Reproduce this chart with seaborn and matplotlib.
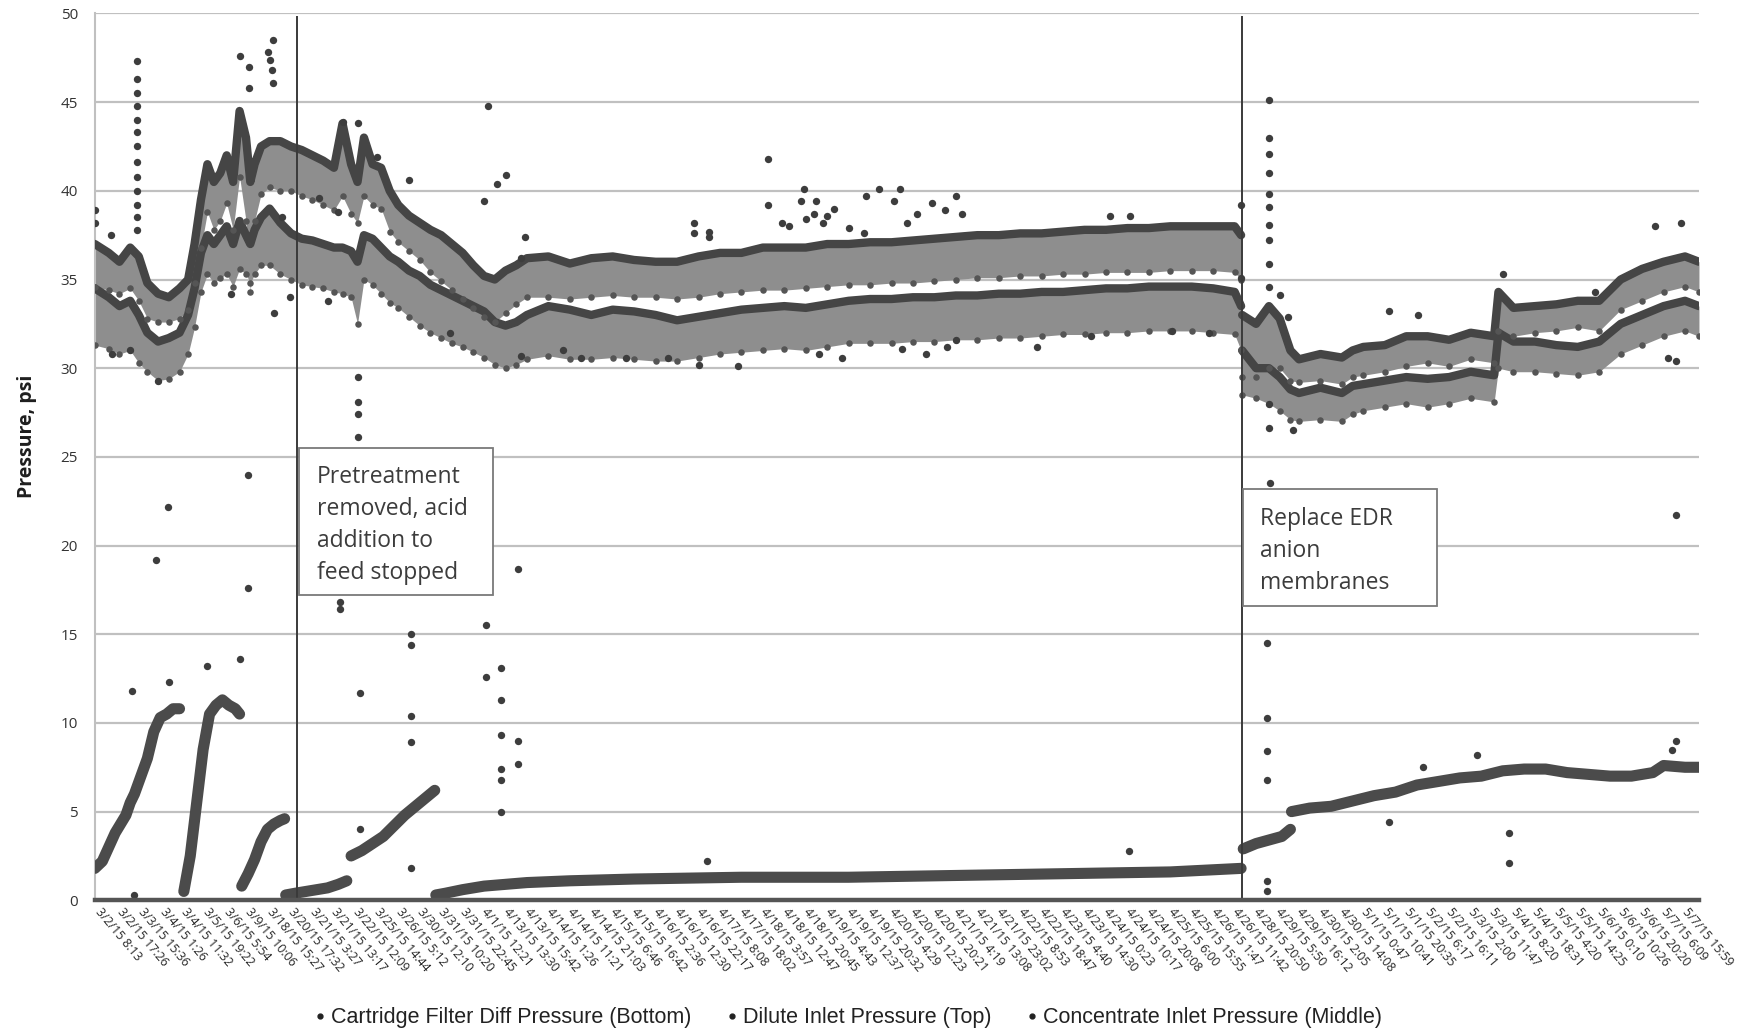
import numpy as np
import pandas as pd
import matplotlib
matplotlib.use("Agg")
import matplotlib.pyplot as plt
import seaborn as sns
from matplotlib.patches import Rectangle
from matplotlib.lines import Line2D

# ---------------- data ----------------
tick_labels = [
    "3/2/15 8:13", "3/2/15 17:26", "3/3/15 15:36", "3/4/15 1:26", "3/4/15 11:32",
    "3/5/15 19:22", "3/6/15 5:54", "3/9/15 10:06", "3/18/15 15:27", "3/20/15 17:32",
    "3/21/15 3:27", "3/21/15 13:17", "3/22/15 12:09", "3/25/15 14:44", "3/26/15 5:12",
    "3/30/15 12:10", "3/31/15 10:20", "3/31/15 22:45", "4/1/15 12:21", "4/13/15 13:30",
    "4/13/15 15:42", "4/14/15 1:26", "4/14/15 11:21", "4/14/15 21:03", "4/15/15 6:46",
    "4/15/15 16:42", "4/16/15 2:36", "4/16/15 12:30", "4/16/15 22:17", "4/17/15 8:08",
    "4/17/15 18:02", "4/18/15 3:57", "4/18/15 12:47", "4/18/15 20:45", "4/19/15 4:43",
    "4/19/15 12:37", "4/19/15 20:32", "4/20/15 4:29", "4/20/15 12:23", "4/20/15 20:21",
    "4/21/15 4:19", "4/21/15 13:08", "4/21/15 23:02", "4/22/15 8:53", "4/22/15 18:47",
    "4/23/15 4:40", "4/23/15 14:30", "4/24/15 0:23", "4/24/15 10:17", "4/24/15 20:08",
    "4/25/15 6:00", "4/25/15 15:55", "4/26/15 1:47", "4/26/15 11:42", "4/28/15 20:50",
    "4/29/15 5:50", "4/29/15 16:12", "4/30/15 2:05", "4/30/15 14:08", "5/1/15 0:47",
    "5/1/15 10:41", "5/1/15 20:35", "5/2/15 6:17", "5/2/15 16:11", "5/3/15 2:00",
    "5/3/15 11:47", "5/4/15 8:20", "5/4/15 18:31", "5/5/15 4:20", "5/5/15 14:25",
    "5/6/15 0:10", "5/6/15 10:26", "5/6/15 20:20", "5/7/15 6:09", "5/7/15 15:59",
]

# Dilute Inlet Pressure (Top) band, x in tick-index units
dil_x = [-0.15, 0.5, 1.0, 1.5, 1.9, 2.3, 2.8, 3.3, 3.8, 4.2, 4.5, 4.8, 5.1, 5.4, 5.7, 6.0,
         6.3, 6.6, 6.9, 7.1, 7.3, 7.6, 8.0, 8.5, 9.0, 9.5, 10.0, 10.5, 11.0, 11.4, 11.8,
         12.1, 12.4, 12.8, 13.2, 13.6, 14.0, 14.5, 15.0, 15.5, 16.0, 16.5, 17.0, 17.5,
         18.0, 18.5, 19.0, 19.5, 20, 21, 22, 23, 24, 25, 26, 27, 28, 29, 30, 31, 32, 33,
         34, 35, 36, 37, 38, 39, 40, 41, 42, 43, 44, 45, 46, 47, 48, 49, 50, 51, 52, 53, 53.3,
         53.35, 54.0, 54.6, 55.1, 55.6, 56, 57, 58, 58.5, 59, 60, 61, 62, 63, 64, 65.1,
         65.3, 66, 67, 68, 69, 70, 71, 72, 73, 74, 74.65]
dil_hi = [37.0, 36.5, 36.0, 36.8, 36.3, 34.8, 34.2, 34.0, 34.5, 35.0, 37.0, 39.5, 41.5, 40.5,
          41.0, 42.0, 40.5, 44.5, 43.0, 40.5, 41.5, 42.5, 42.8, 42.8, 42.5, 42.3, 42.0, 41.7,
          41.3, 43.8, 41.5, 40.5, 43.0, 41.5, 41.3, 40.0, 39.2, 38.6, 38.2, 37.8, 37.5, 37.0,
          36.5, 35.8, 35.2, 35.0, 35.5, 35.8, 36.2, 36.3, 35.9, 36.2, 36.3, 36.1, 36.0, 36.0,
          36.3, 36.5, 36.5, 36.8, 36.8, 36.8, 37.0, 37.0, 37.1, 37.1, 37.2, 37.3, 37.4, 37.5,
          37.5, 37.6, 37.6, 37.7, 37.8, 37.8, 37.9, 37.9, 38.0, 38.0, 38.0, 38.0, 37.5,
          33.0, 32.5, 33.5, 32.8, 31.0, 30.5, 30.8, 30.6, 31.0, 31.2, 31.3, 31.8, 31.8, 31.6,
          32.0, 31.8, 34.3, 33.4, 33.5, 33.6, 33.8, 33.8, 35.0, 35.6, 36.0, 36.3, 36.0]
dil_lo = [34.6, 34.4, 34.2, 34.5, 33.8, 32.8, 32.6, 32.6, 32.8, 33.3, 34.8, 36.8, 38.8, 37.8,
          38.3, 39.3, 37.8, 40.8, 38.3, 34.3, 38.3, 39.8, 40.2, 40.0, 40.0, 39.7, 39.5, 39.2,
          38.9, 39.7, 38.7, 38.2, 39.7, 39.2, 39.0, 37.7, 37.1, 36.6, 36.1, 35.4, 34.9, 34.4,
          33.9, 33.4, 32.9, 32.6, 33.1, 33.6, 34.0, 34.0, 33.9, 34.0, 34.1, 34.0, 34.0, 33.9,
          34.0, 34.2, 34.3, 34.4, 34.4, 34.5, 34.6, 34.7, 34.7, 34.8, 34.8, 34.9, 35.0, 35.1,
          35.1, 35.2, 35.2, 35.3, 35.3, 35.4, 35.4, 35.4, 35.5, 35.5, 35.5, 35.4, 35.0,
          29.5, 29.5, 30.0, 30.0, 29.3, 29.2, 29.3, 29.1, 29.5, 29.6, 29.8, 30.1, 30.3, 30.1,
          30.5, 30.3, 32.1, 31.8, 32.0, 32.1, 32.3, 32.1, 33.3, 33.8, 34.3, 34.6, 34.3]

# Concentrate Inlet Pressure (Middle) band (same x positions)
con_hi = [34.5, 34.0, 33.5, 33.8, 33.0, 32.0, 31.5, 31.7, 32.0, 33.0, 34.5, 36.5, 37.5, 37.0,
          37.5, 38.0, 37.0, 38.3, 37.5, 37.0, 37.8, 38.5, 39.0, 38.2, 37.6, 37.3, 37.2, 37.0,
          36.8, 36.8, 36.6, 36.0, 37.5, 37.3, 36.8, 36.3, 36.0, 35.5, 35.2, 34.7, 34.4, 34.1,
          33.8, 33.5, 33.2, 32.6, 32.4, 32.6, 33.0, 33.5, 33.3, 33.0, 33.3, 33.2, 33.0, 32.7,
          32.9, 33.1, 33.3, 33.4, 33.5, 33.4, 33.6, 33.8, 33.9, 33.9, 34.0, 34.0, 34.1, 34.1,
          34.2, 34.2, 34.3, 34.3, 34.4, 34.5, 34.5, 34.6, 34.6, 34.6, 34.5, 34.3, 33.5,
          31.0, 30.0, 30.0, 29.5, 28.8, 28.6, 28.9, 28.6, 29.0, 29.1, 29.3, 29.5, 29.4, 29.5,
          29.8, 29.6, 32.0, 31.5, 31.5, 31.3, 31.2, 31.5, 32.5, 33.0, 33.5, 33.8, 33.5]
con_lo = [31.3, 31.1, 30.8, 31.0, 30.3, 29.8, 29.3, 29.4, 29.8, 30.8, 32.3, 34.3, 35.3, 34.8,
          35.1, 35.3, 34.6, 35.6, 35.3, 34.8, 35.3, 35.8, 35.8, 35.3, 35.0, 34.7, 34.6, 34.5,
          34.3, 34.2, 34.0, 32.5, 35.0, 34.7, 34.2, 33.7, 33.4, 32.9, 32.4, 32.0, 31.7, 31.4,
          31.2, 30.9, 30.6, 30.2, 30.0, 30.2, 30.5, 30.7, 30.5, 30.5, 30.6, 30.5, 30.4, 30.4,
          30.6, 30.8, 30.9, 31.0, 31.1, 31.0, 31.2, 31.4, 31.4, 31.4, 31.5, 31.5, 31.6, 31.6,
          31.7, 31.7, 31.8, 31.9, 31.9, 32.0, 32.0, 32.1, 32.1, 32.1, 32.0, 31.9, 31.0,
          28.5, 28.3, 28.0, 27.6, 27.1, 27.0, 27.1, 27.0, 27.4, 27.6, 27.8, 28.0, 27.8, 28.0,
          28.3, 28.1, 30.0, 29.8, 29.8, 29.7, 29.6, 29.8, 30.8, 31.3, 31.8, 32.1, 31.8]
band_period = [0] * 83 + [1] * 27   # 0 = before membrane replacement, 1 = after

# Cartridge Filter Diff Pressure (Bottom)
cart_x = [-0.15, 0.2, 0.5, 0.8, 1.0, 1.3, 1.5, 1.7, 2.0, 2.3, 2.6, 2.9, 3.2, 3.5, 3.8,
          4.0, 4.3, 4.6, 4.9, 5.2, 5.5, 5.8, 6.1, 6.4, 6.6,
          6.7, 7.0, 7.3, 7.6, 7.9, 8.2, 8.5, 8.7,
          8.75, 9.2, 9.7, 10.2, 10.7, 11.2, 11.6,
          11.8, 12.3, 12.8, 13.3, 13.8, 14.3, 14.8, 15.3, 15.7,
          15.75, 16.2, 17, 18, 19, 20, 22, 25, 30, 35, 40, 45, 50, 53.3,
          53.4, 54.0, 54.6, 55.2, 55.6,
          55.65, 56.5, 57.5, 58.5, 59.5, 60.5, 61.5, 62.5, 63.5, 64.5, 65.5, 66.5, 67.5,
          68.5, 69.5, 70.5, 71.5, 72.5, 73.0, 74.0, 74.7]
cart_v = [1.8, 2.2, 3.0, 3.8, 4.2, 4.8, 5.5, 6.0, 7.0, 8.0, 9.5, 10.3, 10.5, 10.8, 10.8,
          0.5, 2.5, 5.5, 8.5, 10.5, 11.0, 11.3, 11.0, 10.8, 10.5,
          0.8, 1.5, 2.3, 3.3, 4.0, 4.3, 4.5, 4.6,
          0.3, 0.4, 0.5, 0.6, 0.7, 0.9, 1.1,
          2.5, 2.8, 3.2, 3.6, 4.2, 4.8, 5.3, 5.8, 6.2,
          0.3, 0.4, 0.6, 0.8, 0.9, 1.0, 1.1, 1.2, 1.3, 1.3, 1.4, 1.5, 1.6, 1.8,
          2.9, 3.2, 3.4, 3.6, 4.0,
          5.0, 5.2, 5.3, 5.6, 5.9, 6.1, 6.5, 6.7, 6.9, 7.0, 7.3, 7.4, 7.4,
          7.2, 7.1, 7.0, 7.0, 7.2, 7.6, 7.5, 7.5]
cart_run = [1] * 15 + [2] * 10 + [3] * 8 + [4] * 7 + [5] * 9 + [6] * 14 + [7] * 5 + [8] * 21

# isolated readings (outliers)
out_x = [-0.15, -0.15, 0.6, 1.8, 1.8, 1.8, 1.8, 1.8, 1.8, 1.8, 1.8, 1.8, 1.8, 1.8, 1.8, 1.8,
         6.6, 7.06, 7.06, 7.94, 8.02, 8.17, 8.17, 8.1, 18.2, 19.0, 18.6, 18.0, 14.5, 13.0,
         12.1, 11.4, 19.9, 19.7, 10.3, 11.2, 8.6, 8.95, 10.7, 6.2, 8.2, 1.5, 0.64, 2.8,
         16.4, 19.7, 12.1, 12.1, 12.1, 12.1,
         31.25, 31.25, 32.9, 32.8, 33.5, 31.9, 32.2, 33.0, 33.4, 33.8, 34.3, 34.0, 35.8, 36.4,
         37.4, 37.1, 38.9, 39.5, 40.0, 40.3, 38.2, 35.0, 35.7, 37.7, 27.8, 27.8, 28.5, 28.5,
         28.0, 29.85, 26.6, 33.6, 34.7, 38.6, 37.5, 39.6, 40.0, 24.6, 22.5, 21.7,
         47.2, 48.1, 54.6, 54.6, 54.6, 54.6, 54.6, 54.6, 54.6, 54.6, 54.6, 54.6, 55.1, 55.5,
         53.3, 53.3, 61.55, 54.6, 55.7, 54.6, 43.8, 46.3, 51.8, 50.1,
         60.2, 65.5, 69.8, 72.6, 73.8, 73.2, 73.6, 73.6,
         1.6, 2.7, 3.27, 3.3, 5.1, 6.6, 7.0, 7.0, 1.66, 11.3, 11.3, 12.2, 12.2, 14.6, 14.6,
         14.6, 14.6, 14.6, 18.1, 18.1, 18.8, 18.8, 18.8, 18.8, 18.8, 18.8, 19.6, 19.6, 19.6,
         28.4, 48.05, 54.5, 54.5, 54.5, 54.5, 54.5, 54.5, 54.65, 60.2, 65.8, 65.8, 73.4,
         73.6, 64.3, 61.8]
out_y = [38.2, 38.9, 37.5, 37.8, 38.5, 39.2, 40.0, 40.8, 41.6, 42.5, 43.3, 44.0, 44.8, 45.5,
         46.3, 47.3, 47.6, 47.0, 45.8, 47.8, 47.4, 48.5, 46.1, 46.8, 44.8, 40.9, 40.4, 39.4,
         40.6, 41.9, 43.8, 43.9, 37.4, 36.2, 39.6, 38.8, 38.5, 34.0, 33.8, 34.2, 33.1, 31.0,
         30.8, 29.3, 32.0, 30.7, 29.5, 28.1, 27.4, 26.1,
         41.8, 39.2, 40.1, 39.4, 39.4, 38.2, 38.0, 38.4, 38.7, 38.2, 39.0, 38.6, 39.7, 40.1,
         40.1, 39.4, 39.3, 38.9, 39.7, 38.7, 38.7, 37.9, 37.6, 38.2, 38.2, 37.6, 37.7, 37.4,
         30.2, 30.1, 30.6, 30.8, 30.6, 30.8, 31.1, 31.2, 31.6, 30.6, 30.6, 31.0,
         38.6, 38.6, 45.1, 43.0, 42.1, 41.0, 39.8, 39.1, 38.1, 37.2, 35.9, 34.6, 34.1, 32.9,
         39.2, 35.1, 33.0, 28.0, 26.5, 26.6, 31.2, 31.8, 32.0, 32.1,
         33.2, 35.3, 34.3, 38.0, 38.2, 30.6, 30.4, 21.7,
         11.8, 19.2, 22.2, 12.3, 13.2, 13.6, 24.0, 17.6, 0.3, 16.8, 16.4, 11.7, 4.0, 15.0, 14.4,
         10.4, 8.9, 1.8, 15.5, 12.6, 13.1, 11.3, 9.3, 7.4, 6.8, 5.0, 18.7, 9.0, 7.7,
         2.2, 2.8, 14.5, 10.3, 8.4, 6.8, 1.1, 0.5, 23.5, 4.4, 3.8, 2.1, 8.5,
         9.0, 8.2, 7.5]

event_x = [9.3, 53.35]
event_text = ["Pretreatment\nremoved, acid\naddition to\nfeed stopped",
              "Replace EDR\nanion\nmembranes"]

legend_names = ["Cartridge Filter Diff Pressure (Bottom)",
                "Dilute Inlet Pressure (Top)",
                "Concentrate Inlet Pressure (Middle)"]

# ---------------- plotting ----------------
sns.set_theme(style="white")
plt.rcParams["font.family"] = ["Open Sans", "DejaVu Sans"]

DARK = "#454545"
GRAY = "#8e8e8e"

fig = plt.figure(figsize=(17.47, 10.34), dpi=100)
ax = fig.add_axes([0.0542, 0.1293, 0.9183, 0.8577])

bands = pd.DataFrame({"x": dil_x, "dil_hi": dil_hi, "dil_lo": dil_lo,
                      "con_hi": con_hi, "con_lo": con_lo, "period": band_period})

for p, g in bands.groupby("period"):
    ax.fill_between(g["x"], g["con_lo"], g["con_hi"], color=GRAY, lw=0, zorder=2)
    ax.fill_between(g["x"], g["dil_lo"], g["dil_hi"], color=GRAY, lw=0, zorder=2)

per = bands["period"].astype(str)
top_edges = pd.concat([
    pd.DataFrame({"x": bands["x"], "v": bands["dil_hi"], "unit": "d" + per}),
    pd.DataFrame({"x": bands["x"], "v": bands["con_hi"], "unit": "c" + per}),
])
sns.lineplot(data=top_edges, x="x", y="v", units="unit", estimator=None, sort=False,
             color=DARK, lw=6, ax=ax, zorder=3)

low_edges = pd.concat([
    pd.DataFrame({"x": bands["x"], "v": bands["dil_lo"]}),
    pd.DataFrame({"x": bands["x"], "v": bands["con_lo"]}),
])
sns.scatterplot(data=low_edges, x="x", y="v", color="#555555", s=22, linewidth=0,
                ax=ax, zorder=3)

cart = pd.DataFrame({"x": cart_x, "v": cart_v, "run": cart_run})
sns.lineplot(data=cart, x="x", y="v", units="run", estimator=None, sort=False,
             color="#4b4b4b", lw=8, ax=ax, zorder=3, solid_capstyle="round")

outl = pd.DataFrame({"x": out_x, "y": out_y})
sns.scatterplot(data=outl, x="x", y="y", color="#3d3d3d", s=28, linewidth=0,
                ax=ax, zorder=4)

# event lines
ax.vlines(event_x, 0, 49.85, color="#3a3a3a", lw=1.4, zorder=5)

# annotation boxes
box_specs = [(event_x[0] + 0.05, 17.2, 9.05, 8.3, event_x[0] + 0.9, 24.55),
             (event_x[1] + 0.02, 16.6, 9.05, 6.6, event_x[1] + 0.85, 22.2)]
for (bx, by, bw, bh, tx, ty), txt in zip(box_specs, event_text):
    ax.add_patch(Rectangle((bx, by), bw, bh, facecolor="white", edgecolor="#7a7a7a",
                           lw=1.3, zorder=6))
    ax.text(tx, ty, txt, ha="left", va="top", fontsize=16.5, color="#3c3c3c",
            linespacing=1.45, zorder=7)

# axes styling
ax.set_xlim(-0.156, 74.65)
ax.set_ylim(0, 50)
ax.set_yticks(range(0, 51, 5))
ax.set_xticks(range(len(tick_labels)))
ax.set_xticklabels(tick_labels, rotation=-50, ha="left", va="center",
                   rotation_mode="anchor", fontsize=8.8, color="#262626")
ax.tick_params(axis="x", length=0, pad=7)
ax.tick_params(axis="y", length=0, pad=12, labelsize=11, labelcolor="#333333")
ax.yaxis.grid(True, color="#c0c0c0", lw=1.6, zorder=0)
ax.xaxis.grid(False)
ax.set_axisbelow(True)
for s in ["top", "right"]:
    ax.spines[s].set_visible(False)
ax.spines["left"].set_color("#c0c0c0")
ax.spines["left"].set_linewidth(1.5)
ax.spines["bottom"].set_color("#555555")
ax.spines["bottom"].set_linewidth(3.2)
ax.spines["bottom"].set_zorder(6)
ax.set_xlabel("")
ax.set_ylabel("Pressure, psi", fontsize=14, fontweight="bold", color="#1e1e1e")
ax.yaxis.set_label_coords(-0.036, 0.523)

handles = [Line2D([], [], marker="o", ls="", color="#222222", markersize=3.5)
           for _ in legend_names]
fig.legend(handles, legend_names, loc="lower center", bbox_to_anchor=(0.484, -0.013),
           ncol=3, frameon=False, handletextpad=0.0, handlelength=1.0,
           columnspacing=1.4,
           prop={"family": "Liberation Sans", "size": 15.5}, labelcolor="#222222")

fig.savefig("out.png", dpi=100)
